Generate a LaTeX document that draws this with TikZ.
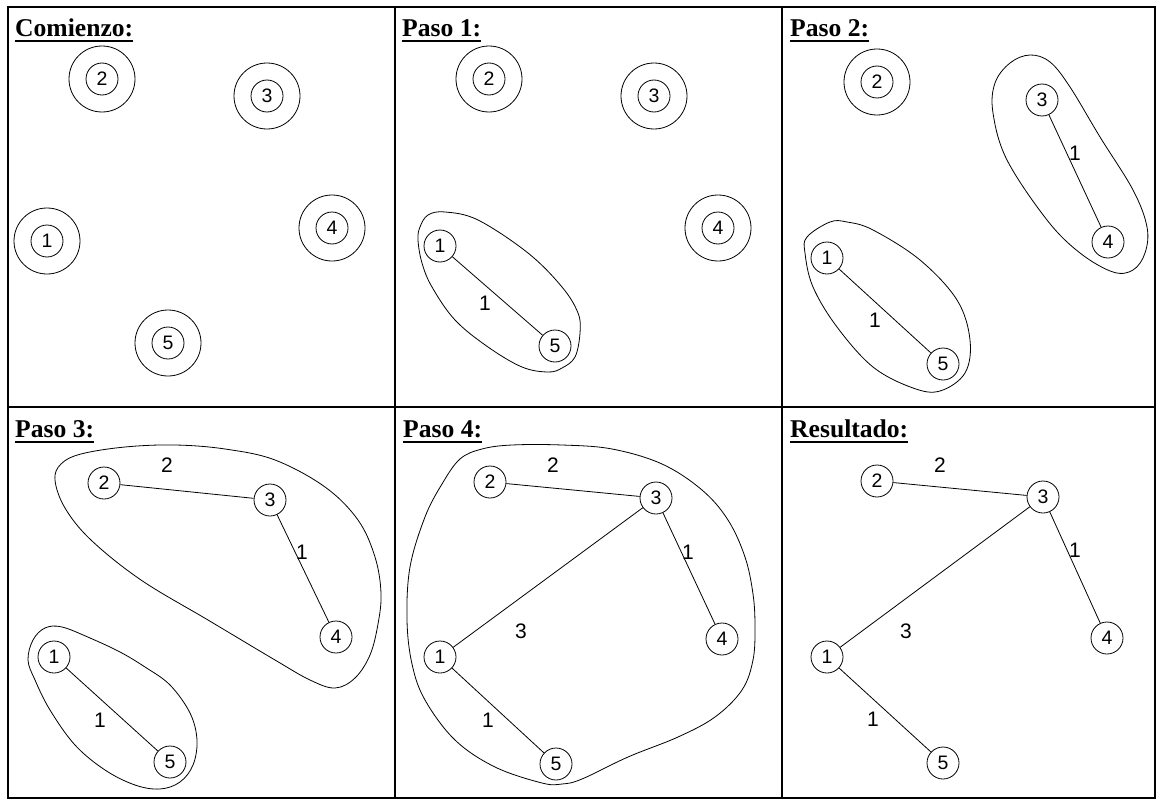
\documentclass[tikz,border=0pt]{standalone}
\usepackage{fontspec}
\setmainfont{Liberation Sans}
\newfontfamily\titlefont{Liberation Serif}
\begin{document}
\begin{tikzpicture}[x=1pt,y=-1pt,
  v/.style={circle,draw,minimum size=32pt,inner sep=0pt,line width=0.8pt,font=\fontsize{19.5}{21}\selectfont},
  ring/.style={draw,line width=0.8pt},
  lbl/.style={inner sep=0pt,font=\fontsize{21}{23}\selectfont},
  edge/.style={line width=0.8pt},
  hull/.style={line width=0.8pt},
  gridline/.style={line width=2pt},
  ttl/.style={anchor=base west,inner sep=0pt,font=\titlefont\bfseries\fontsize{25.6}{28}\selectfont},
  uline/.style={line width=2pt}]
\useasboundingbox (0,0) rectangle (1157,800);
% grid
\draw[gridline] (8,7) rectangle (1155,798);
\draw[gridline] (395,7) -- (395,798);
\draw[gridline] (782,7) -- (782,798);
\draw[gridline] (8,407) -- (1155,407);
% titles
\node[ttl] (t1) at (15,37) {Comienzo:};
\node[ttl] (t2) at (402,37) {Paso 1:};
\node[ttl] (t3) at (790,37) {Paso 2:};
\node[ttl] (t4) at (15,437) {Paso 3:};
\node[ttl] (t5) at (403,437) {Paso 4:};
\node[ttl] (t6) at (790,437) {Resultado:};
\foreach \t in {t1,t2,t3,t4,t5,t6}
  \draw[uline] ([yshift=-4.5pt]\t.base west) -- ([yshift=-4.5pt]\t.base east);
% ---------- Comienzo
\node[v] (a2) at (102,79) {2};
\node[v] (a3) at (267,96) {3};
\node[v] (a4) at (332,228) {4};
\node[v] (a1) at (47,241) {1};
\node[v] (a5) at (168,343) {5};
\foreach \n in {a1,a2,a3,a4,a5} \draw[ring] (\n) circle[radius=33pt];
% ---------- Paso 1
\node[v] (b2) at (489,79) {2};
\node[v] (b3) at (654,96) {3};
\node[v] (b4) at (718,228) {4};
\node[v] (b1) at (440,246) {1};
\node[v] (b5) at (555,346) {5};
\foreach \n in {b2,b3,b4} \draw[ring] (\n) circle[radius=33pt];
\draw[edge] (b1) -- (b5);
\node[lbl] (bl15) at (485,303) {1};
\draw[hull] plot[smooth cycle, tension=0.6] coordinates {(428,215) (445,212) (478,220) (528,253) (562,287) (578,313) (580,333) (575,357) (562,368) (548,372) (522,367) (488,347) (455,320) (432,287) (422,263) (418,240) (420,227)};
% ---------- Paso 2
\node[v] (c2) at (877,82) {2};
\node[v] (c3) at (1042,100) {3};
\node[v] (c4) at (1108,242) {4};
\node[v] (c1) at (827,258) {1};
\node[v] (c5) at (943,364) {5};
\draw[ring] (c2) circle[radius=33pt];
\draw[edge] (c1) -- (c5);
\draw[edge] (c3) -- (c4);
\node[lbl] (cl15) at (875,320) {1};
\node[lbl] (cl34) at (1075,153) {1};
\draw[hull] plot[smooth cycle, tension=0.6] coordinates {(830,222) (807,237) (805,253) (813,287) (837,327) (873,367) (913,388) (940,391) (965,373) (970,340) (957,300) (920,260) (873,230) (847,222)};
\draw[hull] plot[smooth cycle, tension=0.6] coordinates {(1030,55) (1010,63) (995,83) (993,113) (1007,160) (1047,220) (1080,253) (1113,272) (1133,270) (1145,253) (1147,227) (1133,190) (1100,137) (1070,87) (1050,62)};
% ---------- Paso 3
\node[v] (d2) at (104,483) {2};
\node[v] (d3) at (270,500) {3};
\node[v] (d4) at (336,637) {4};
\node[v] (d1) at (54,657) {1};
\node[v] (d5) at (170,762) {5};
\draw[edge] (d2) -- (d3);
\draw[edge] (d3) -- (d4);
\draw[edge] (d1) -- (d5);
\node[lbl] (dl23) at (167,465) {2};
\node[lbl] (dl34) at (302,552) {1};
\node[lbl] (dl15) at (100,720) {1};
\draw[hull] plot[smooth cycle, tension=0.6] coordinates {(55,480) (61,464) (81,454) (125,447) (175,445) (225,449) (275,460) (325,487) (358,520) (375,557) (381,593) (378,624) (370,655) (355,678) (335,688) (310,680) (275,660) (208,620) (141,580) (91,540) (65,508)};
\draw[hull] plot[smooth cycle, tension=0.6] coordinates {(33,640) (45,628) (62,627) (90,638) (120,652) (145,667) (170,685) (190,713) (197,740) (193,765) (180,782) (160,789) (135,785) (105,770) (75,745) (50,710) (35,680) (28,660)};
% ---------- Paso 4
\node[v] (e2) at (490,482) {2};
\node[v] (e3) at (656,498) {3};
\node[v] (e4) at (722,639) {4};
\node[v] (e1) at (440,657) {1};
\node[v] (e5) at (556,764) {5};
\draw[edge] (e2) -- (e3);
\draw[edge] (e3) -- (e4);
\draw[edge] (e1) -- (e3);
\draw[edge] (e1) -- (e5);
\node[lbl] (el23) at (553,465) {2};
\node[lbl] (el34) at (688,552) {1};
\node[lbl] (el13) at (521,631) {3};
\node[lbl] (el15) at (488,720) {1};
\draw[hull] plot[smooth cycle, tension=0.6] coordinates {(460,459) (482,449) (512,445) (562,445) (612,449) (662,464) (702,490) (728,520) (745,557) (753,594) (755,627) (753,660) (742,690) (715,717) (678,737) (628,757) (582,779) (562,784) (542,783) (495,767) (455,740) (425,700) (412,664) (407,620) (410,567) (425,517) (442,484)};
% ---------- Resultado
\node[v] (f2) at (877,481) {2};
\node[v] (f3) at (1043,497) {3};
\node[v] (f4) at (1107,638) {4};
\node[v] (f1) at (827,657) {1};
\node[v] (f5) at (943,763) {5};
\draw[edge] (f2) -- (f3);
\draw[edge] (f3) -- (f4);
\draw[edge] (f1) -- (f3);
\draw[edge] (f1) -- (f5);
\node[lbl] (fl23) at (940,465) {2};
\node[lbl] (fl34) at (1075,550) {1};
\node[lbl] (fl13) at (906,631) {3};
\node[lbl] (fl15) at (873,719) {1};
\end{tikzpicture}
\end{document}
